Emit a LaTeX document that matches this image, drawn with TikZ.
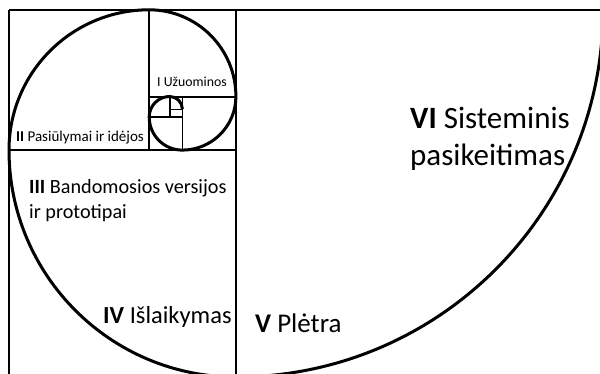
\documentclass[tikz,border=0pt]{standalone}
\usepackage{fontspec}
\setmainfont{Carlito}

\begin{document}
\begin{tikzpicture}[x=1pt,y=1pt,
    frame/.style={line width=1.6pt},
    spiral/.style={line width=3pt},
    lbl/.style={anchor=base west,inner sep=0pt,align=left}]
  \useasboundingbox (0,0) rectangle (600,-373);
  \clip (0,0) rectangle (600,-373);

  % 正方形の区切り
  \draw[frame] (9,-10) -- (600,-10);
  \draw[frame] (9,-10) -- (9,-377);
  \draw[frame] (236,-10) -- (236,-377);
  \draw[frame] (149.2,-10) -- (149.2,-150.2);
  \draw[frame] (9,-150.2) -- (236,-150.2);
  \draw[frame] (149.2,-96.7) -- (236,-96.7);
  \draw[frame] (182.4,-96.7) -- (182.4,-150.2);
  \draw[frame] (149.2,-117.2) -- (182.4,-117.2);
  \draw[frame] (169.7,-96.7) -- (169.7,-117.2);
  \draw[frame] (169.7,-109.4) -- (182.4,-109.4);

  % らせん
  \draw[spiral] (603,-10)
    arc[start angle=0, end angle=-90, radius=367]
    arc[start angle=-90, end angle=-180, radius=227]
    arc[start angle=180, end angle=90, radius=140.2]
    arc[start angle=90, end angle=0, radius=86.7]
    arc[start angle=0, end angle=-90, radius=53.6]
    arc[start angle=-90, end angle=-180, radius=33.1]
    arc[start angle=180, end angle=90, radius=20.5]
    arc[start angle=90, end angle=0, radius=12.7];

  \node[lbl,font=\fontsize{13.8}{17}\selectfont] (uzuominos) at (157,-86) {I Užuominos};
  \node[lbl,font=\fontsize{15}{18}\selectfont] (pasiulymai) at (16,-141) {\textbf{II} Pasiūlymai ir idėjos};
  \node[lbl,font=\fontsize{20.2}{25}\selectfont] (bandymai) at (29,-218) {\textbf{III} Bandomosios versijos\\ir prototipai};
  \node[lbl,font=\fontsize{24.5}{29}\selectfont] (islaikymas) at (103,-323) {\textbf{IV} Išlaikymas};
  \node[lbl,font=\fontsize{27}{32}\selectfont] (pletra) at (255,-332) {\textbf{V} Plėtra};
  \node[lbl,font=\fontsize{31}{37}\selectfont] (sisteminis) at (410,-165) {\textbf{VI} Sisteminis\\pasikeitimas};
\end{tikzpicture}
\end{document}
